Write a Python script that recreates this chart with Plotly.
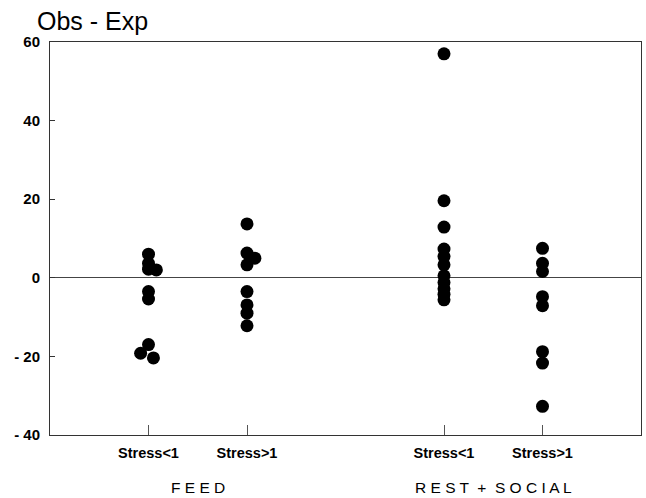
import plotly.graph_objects as go

# Category positions on the x axis (gap between the two activity groups)
categories = ["Stress<1", "Stress>1", "Stress<1", "Stress>1"]
cat_pos = [1, 2, 4, 5]

# Observed minus expected values per category
feed_low = [6.0, 3.7, 2.2, -3.5, -5.4, -17.0]
feed_low_offset = [(0.08, 2.0), (-0.08, -19.2), (0.05, -20.4)]
feed_high = [13.7, 6.3, 3.3, -3.5, -6.9, -9.0, -12.2]
feed_high_offset = [(0.08, 5.0)]
rest_low = [57.0, 19.6, 12.9, 7.3, 5.4, 3.3, 0.5, -1.2, -2.8, -4.2, -5.6]
rest_high = [7.5, 3.7, 1.6, -4.8, -7.1, -18.8, -21.7, -32.7]

groups = ["F E E D", "R E S T  +  S O C I A L"]
group_centres = [1.5, 4.5]

xs, ys = [], []
for pos, vals in zip(cat_pos, [feed_low, feed_high, rest_low, rest_high]):
    xs += [pos] * len(vals)
    ys += vals
for dx, v in feed_low_offset:
    xs.append(cat_pos[0] + dx)
    ys.append(v)
for dx, v in feed_high_offset:
    xs.append(cat_pos[1] + dx)
    ys.append(v)

fig = go.Figure()
fig.add_trace(go.Scatter(
    x=xs, y=ys, mode="markers",
    marker=dict(size=13, color="black", line=dict(width=0)),
    showlegend=False, hoverinfo="skip",
))

font = "Liberation Sans, Arial, sans-serif"

fig.update_layout(
    width=646, height=498,
    margin=dict(l=50, r=5, t=42, b=63),
    paper_bgcolor="white", plot_bgcolor="white",
    xaxis=dict(
        range=[0, 6], tickmode="array", tickvals=cat_pos, ticktext=categories,
        ticks="inside", ticklen=10, tickwidth=1, tickcolor="#555",
        showgrid=False, zeroline=False,
        showline=True, linecolor="#333", linewidth=1, mirror=True,
        tickfont=dict(family=font, size=14.5, color="black", weight="bold"),
        ticklabelstandoff=5,
    ),
    yaxis=dict(
        range=[-40, 60], tickmode="array", tickvals=[-40, -20, 0, 20, 40, 60],
        ticktext=["- 40", "- 20", "0", "20", "40", "60"],
        ticks="inside", ticklen=5, tickwidth=1, tickcolor="#333",
        showgrid=False, zeroline=True, zerolinecolor="#444", zerolinewidth=1,
        showline=True, linecolor="#333", linewidth=1, mirror=True,
        tickfont=dict(family=font, size=15, color="black", weight="bold"),
        ticklabelstandoff=6,
    ),
    annotations=[
        dict(text="Obs - Exp", xref="paper", yref="paper",
             x=-15 / 591, y=1.0, yshift=5, xanchor="left", yanchor="bottom",
             showarrow=False, font=dict(family=font, size=25, color="black")),
    ] + [
        dict(text=g, xref="x", yref="paper", x=c, y=0, yshift=-42,
             xanchor="center", yanchor="top", showarrow=False,
             font=dict(family=font, size=15.5, color="black"))
        for g, c in zip(groups, group_centres)
    ],
)

fig.write_html("out.html")
